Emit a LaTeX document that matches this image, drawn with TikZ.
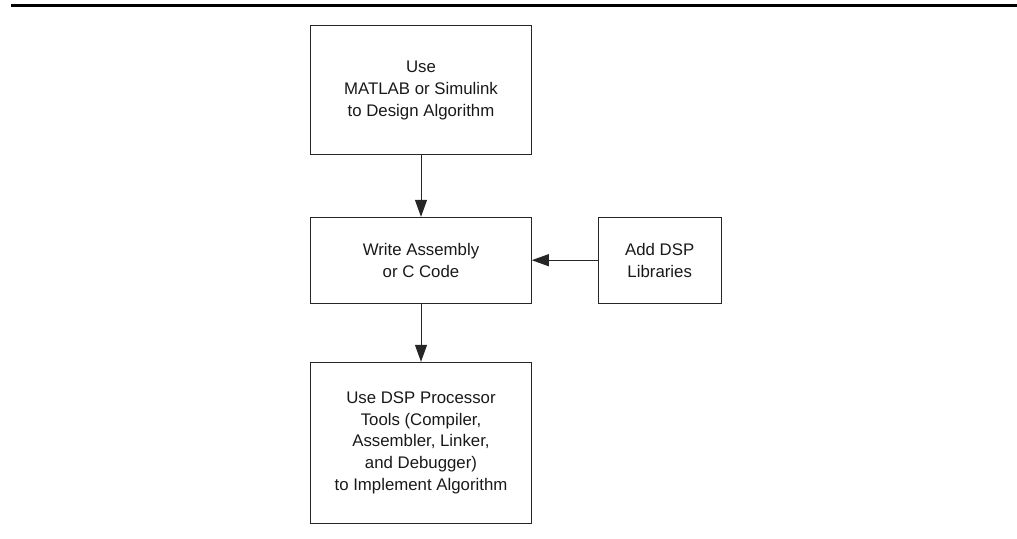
\documentclass[tikz,border=0pt]{standalone}
\usepackage{fontspec}
\setmainfont{Liberation Sans}
\usetikzlibrary{arrows.meta}
\tikzset{
  stepbox/.style={draw=black!85,line width=1pt,align=center,inner sep=0pt,
    font=\fontsize{16.8}{21.7}\selectfont,text=black!90},
}
\begin{document}
\begin{tikzpicture}[>={Triangle[length=17pt,width=12pt]},x=1pt,y=-1pt]
    \useasboundingbox (0,0) rectangle (1017,538);
    \draw[line width=2.6pt] (11,5.7)--(1017,5.7);
    \node[stepbox,minimum width=220.6pt,minimum height=129.3pt] (design) at (421,90.3)%
        {Use\\MATLAB or Simulink\\to Design Algorithm};
    \node[stepbox,minimum width=220.6pt,minimum height=85.7pt] (code) at (421,260.2)%
        {Write Assembly\\or C Code};
    \node[stepbox,minimum width=122.7pt,minimum height=85.7pt] (libs) at (659.7,260.2)%
        {Add DSP\\Libraries};
    \node[stepbox,minimum width=220.6pt,minimum height=161pt] (tools) at (421,442.8)%
        {Use DSP Processor\\Tools (Compiler,\\Assembler, Linker,\\and Debugger)\\to Implement Algorithm};
    \draw[->,line width=1pt,black!85] (design) -- (code);
    \draw[->,line width=1pt,black!85] (libs) -- (code);
    \draw[->,line width=1pt,black!85] (code) -- (tools);
\end{tikzpicture}
\end{document}
